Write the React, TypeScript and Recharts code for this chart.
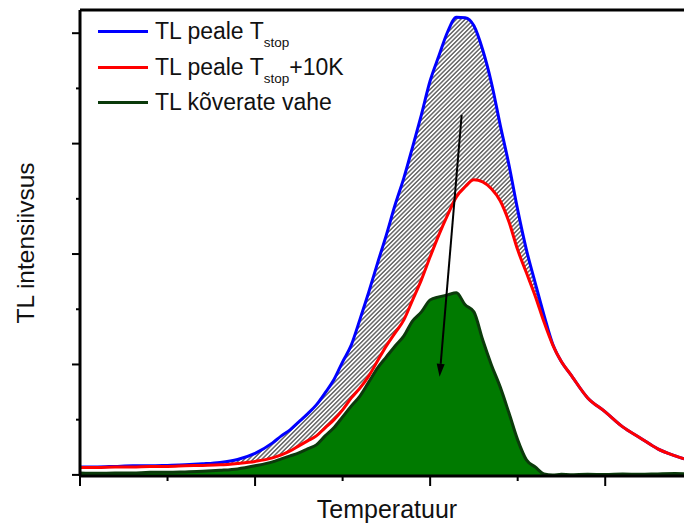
import { ComposedChart, Area, Line, XAxis, YAxis, Legend, ReferenceLine, Label } from "recharts";

// temperature grid (arbitrary units, axis carries no numbers)
const temperature = [
  0, 10, 20, 30, 40, 50, 60, 70, 80, 90, 100, 110, 115, 120, 125, 130, 135, 140, 145, 150, 155, 160,
  165, 170, 175, 180, 185, 190, 195, 200, 205, 210, 215, 220, 225, 230, 235, 240, 245, 250, 255, 260,
  265, 270, 275, 280, 290, 300, 310, 320, 330, 340, 345,
];

// TL after heating to T_stop
const tlStop = [
  7.2, 7.2, 7.7, 8.2, 8.2, 8.6, 9.1, 10.0, 11.3, 14.0, 19.5, 29.0, 35.3, 40.8, 48.0, 55.3, 63.4, 74.3,
  86.1, 102.4, 117.8, 141.3, 165.8, 192.0, 217.4, 244.6, 269.0, 297.1, 326.1, 356.9, 379.5, 401.3, 414.5,
  414.0, 406.7, 385.0, 355.1, 317.0, 280.8, 240.0, 203.8, 173.9, 144.9, 118.5, 102.4, 91.5, 69.7, 57.1,
  43.5, 33.5, 23.6, 17.2, 14.5,
];

// TL after heating to T_stop + 10K
const tlStop10 = [
  6.8, 6.8, 7.2, 7.2, 7.7, 7.7, 8.2, 8.6, 9.1, 10.4, 12.2, 15.4, 18.1, 21.7, 26.3, 30.8, 35.3, 42.6,
  49.8, 58.9, 69.7, 78.8, 89.7, 103.3, 116.8, 128.6, 140.4, 158.5, 176.6, 197.5, 217.4, 235.5, 251.8,
  260.9, 267.2, 265.4, 259.1, 248.2, 229.2, 203.8, 183.0, 162.1, 138.6, 117.8, 102.4, 91.5, 69.7, 57.1,
  43.5, 33.5, 23.6, 17.2, 14.5,
];

// difference of the two glow curves
const tlDiff = [
  1.8, 1.4, 1.8, 1.8, 2.3, 2.3, 2.7, 3.2, 4.1, 5.4, 8.2, 11.8, 14.5, 17.2, 19.9, 23.6, 27.2, 35.3, 42.6,
  52.5, 62.5, 71.6, 84.2, 96.9, 106.9, 116.8, 125.9, 139.5, 147.6, 158.5, 161.2, 163.0, 164.9, 154.0,
  147.6, 122.3, 99.6, 79.7, 56.2, 31.7, 13.6, 7.2, 0.9, 0, 0.5, 0.2, 0.6, 0.3, 0.8, 0.5, 0.9, 1.2, 1.0,
];

const xTicks = [0, 50, 100, 150, 200, 250, 300];
const yTicks = [0, 50, 100, 150, 200, 250, 300, 350, 400];

// arrow from the hatched band down into the difference peak
const arrowFrom = { x: 218, y: 326 };
const arrowTo = { x: 205.4, y: 88.8 };

const FONT = '"Liberation Sans", Arial, Helvetica, sans-serif';

const rows = temperature.map((t, i) => ({
  t,
  stop: tlStop[i],
  stop10: tlStop10[i],
  diff: tlDiff[i],
  band: [tlStop10[i], tlStop[i]],
}));

const legendItems = [
  { color: "#0000ff", text: "TL peale T", sub: "stop", tail: "" },
  { color: "#ff0000", text: "TL peale T", sub: "stop", tail: "+10K" },
  { color: "#0b3a0b", text: "TL kõverate vahe", sub: "", tail: "" },
];

const YTick = ({ x, y, payload }: any) => {
  const len = payload.value % 100 === 0 ? 8 : 4;
  return <line x1={x - len} y1={y} x2={x} y2={y} stroke="#000" strokeWidth={2} />;
};

const XTick = ({ x, y, payload }: any) => {
  const len = payload.value % 100 === 0 ? 10 : 5;
  return <line x1={x} y1={y} x2={x} y2={y + len} stroke="#000" strokeWidth={2} />;
};

const YTitle = ({ viewBox }: any) => {
  const cx = viewBox.x + 25;
  const cy = viewBox.y + viewBox.height / 2;
  return (
    <text
      x={cx}
      y={cy}
      transform={`rotate(-90 ${cx} ${cy})`}
      textAnchor="middle"
      dominantBaseline="central"
      fontFamily={FONT}
      fontSize={24.5}
      fill="#111"
    >
      TL intensiivsus
    </text>
  );
};

const XTitle = ({ viewBox }: any) => (
  <text
    x={viewBox.x + viewBox.width / 2 + 5}
    y={viewBox.y + 42}
    textAnchor="middle"
    fontFamily={FONT}
    fontSize={25}
    fill="#111"
  >
    Temperatuur
  </text>
);

const Arrow = ({ x1, y1, x2, y2 }: any) => {
  const a = Math.atan2(y2 - y1, x2 - x1);
  const len = 13;
  const half = 4;
  const bx = x2 - len * Math.cos(a);
  const by = y2 - len * Math.sin(a);
  const px = -Math.sin(a) * half;
  const py = Math.cos(a) * half;
  return (
    <g>
      <line x1={x1} y1={y1} x2={bx} y2={by} stroke="#000" strokeWidth={2} />
      <polygon points={`${x2},${y2} ${bx + px},${by + py} ${bx - px},${by - py}`} fill="#000" />
    </g>
  );
};

const renderLegend = () => (
  <div style={{ fontFamily: FONT, color: "#111" }}>
    {legendItems.map((item) => (
      <div key={item.color} style={{ display: "flex", alignItems: "center", height: 35.5 }}>
        <span style={{ display: "inline-block", width: 50, height: 3, background: item.color, marginRight: 7 }} />
        <span style={{ fontSize: 23, lineHeight: "23px", whiteSpace: "nowrap" }}>
          {item.text}
          {item.sub && (
            <span style={{ fontSize: 13.5, verticalAlign: -8, lineHeight: 0 }}>{item.sub}</span>
          )}
          {item.tail}
        </span>
      </div>
    ))}
  </div>
);

export default function App() {
  return (
    <div style={{ position: "absolute", left: 0, top: 0, width: 684, height: 524, background: "#fff" }}>
      <ComposedChart width={684} height={524} data={rows} margin={{ top: 10, right: 0, bottom: 0, left: 0 }}>
        <defs>
          <pattern id="hatch" patternUnits="userSpaceOnUse" width={3.1} height={3.1} patternTransform="rotate(45)">
            <rect width={3.1} height={3.1} fill="#fff" />
            <line x1={1.55} y1={0} x2={1.55} y2={3.1} stroke="#1a1a1a" strokeWidth={1} />
          </pattern>
        </defs>

        <Area
          dataKey="band"
          type="monotone"
          fill="url(#hatch)"
          fillOpacity={1}
          stroke="none"
          legendType="none"
          isAnimationActive={false}
        />
        <Area
          dataKey="diff"
          type="monotone"
          fill="#007a00"
          fillOpacity={1}
          stroke="#0b3a0b"
          strokeWidth={3}
          isAnimationActive={false}
        />
        <Line dataKey="stop" type="monotone" stroke="#0000ff" strokeWidth={3} dot={false} isAnimationActive={false} />
        <Line dataKey="stop10" type="monotone" stroke="#ff0000" strokeWidth={3} dot={false} isAnimationActive={false} />

        <ReferenceLine segment={[arrowFrom, arrowTo]} ifOverflow="visible" shape={Arrow} />
        <ReferenceLine y={421} stroke="#000" strokeWidth={3} ifOverflow="visible" />

        <XAxis
          dataKey="t"
          type="number"
          domain={[0, 345]}
          allowDataOverflow
          ticks={xTicks}
          height={48}
          tickSize={0}
          tickMargin={0}
          tickLine={false}
          tick={<XTick />}
          axisLine={{ stroke: "#000", strokeWidth: 3 }}
          label={<Label content={XTitle} />}
        />
        <YAxis
          type="number"
          domain={[-1, 421]}
          allowDataOverflow
          ticks={yTicks}
          width={80}
          tickSize={0}
          tickMargin={0}
          tickLine={false}
          tick={<YTick />}
          axisLine={{ stroke: "#000", strokeWidth: 3 }}
          label={<Label content={YTitle} />}
        />
        <Legend
          layout="vertical"
          align="center"
          verticalAlign="middle"
          wrapperStyle={{ top: 14, left: 98, width: "auto", height: "auto" }}
          content={renderLegend}
        />
      </ComposedChart>
    </div>
  );
}
